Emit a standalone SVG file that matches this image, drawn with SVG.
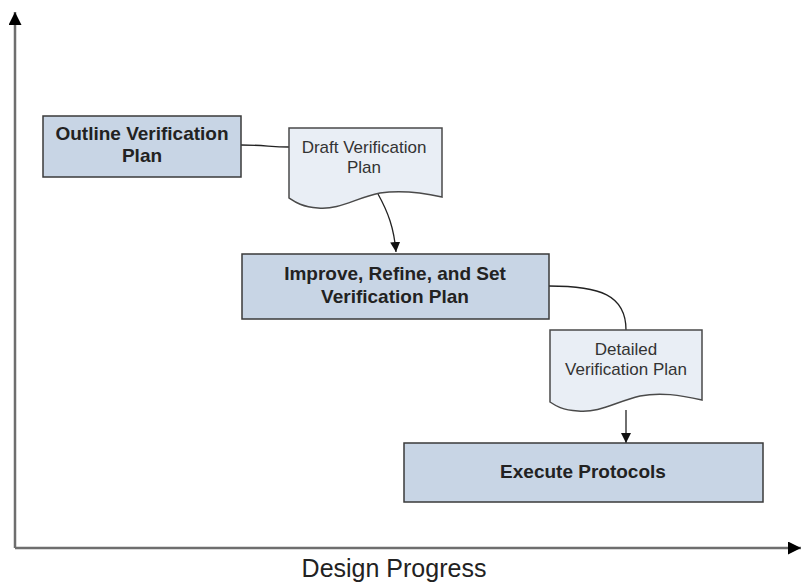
<svg xmlns="http://www.w3.org/2000/svg" width="802" height="584" viewBox="0 0 802 584">
<style>
.box{fill:#c8d5e5;stroke:#3a3a3a;stroke-width:1.5}
.doc{fill:#e9eef5;stroke:#4a4a4a;stroke-width:1.5}
.bt{font-family:"Liberation Sans",Arial,sans-serif;font-weight:bold;font-size:19px;fill:#222;text-anchor:middle}
.dt{font-family:"Liberation Sans",Arial,sans-serif;font-size:17px;fill:#333;text-anchor:middle}
.conn{fill:none;stroke:#222;stroke-width:1.3}
.axis{fill:none;stroke:#6e6e6e;stroke-width:2.5}
</style>
<defs>
<marker id="ah" viewBox="0 0 10 10" refX="10" refY="5" markerWidth="10" markerHeight="10" markerUnits="userSpaceOnUse" orient="auto">
<path d="M0,0 L10,5 L0,10 z" fill="#111"/>
</marker>
<marker id="axh" viewBox="0 0 10 10" refX="10" refY="5" markerWidth="14" markerHeight="13" markerUnits="userSpaceOnUse" orient="auto">
<path d="M0,0 L10,5 L0,10 z" fill="#000"/>
</marker>
</defs>
<rect width="802" height="584" fill="#fff"/>
<g id="axes">
<path class="axis" d="M15,548 L15,12" marker-end="url(#axh)"/>
<path class="axis" d="M15,548 L801,548" marker-end="url(#axh)"/>
<text x="394" y="577" font-family="'Liberation Sans',Arial,sans-serif" font-size="25" fill="#222" text-anchor="middle">Design Progress</text>
</g>
<g id="connectors">
<path class="conn" d="M241,145 C265,145 270,147 289,147"/>
<path class="conn" d="M378,194 C388,212 394,228 396,252" marker-end="url(#ah)"/>
<path class="conn" d="M549,286 C600,286 626,295 626,330"/>
<path class="conn" d="M626,410 L626,443" marker-end="url(#ah)"/>
</g>
<g id="outline">
<rect class="box" x="43" y="116" width="198" height="61"/>
<text class="bt" x="142" y="140">Outline Verification</text>
<text class="bt" x="142" y="162">Plan</text>
</g>
<g id="draft">
<path class="doc" d="M289,128 L442,128 L442,197 C420,192 400,190 380,193 C355,198 340,210 318,208 C302,207 295,202 289,198 Z"/>
<text class="dt" x="364" y="153">Draft Verification</text>
<text class="dt" x="364" y="173">Plan</text>
</g>
<g id="improve">
<rect class="box" x="242" y="254" width="307" height="65"/>
<text class="bt" x="395" y="280">Improve, Refine, and Set</text>
<text class="bt" x="395" y="303">Verification Plan</text>
</g>
<g id="detailed">
<path class="doc" d="M550,330 L702,330 L702,400 C680,395 660,392 640,396 C615,402 600,413 578,411 C562,410 556,406 550,402 Z"/>
<text class="dt" x="626" y="355">Detailed</text>
<text class="dt" x="626" y="375">Verification Plan</text>
</g>
<g id="execute">
<rect class="box" x="404" y="443" width="359" height="59"/>
<text class="bt" x="583" y="478">Execute Protocols</text>
</g>
</svg>
